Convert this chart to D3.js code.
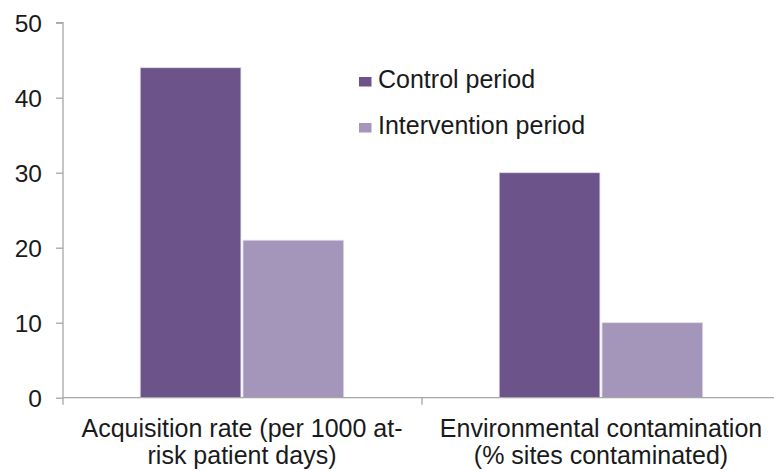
<!DOCTYPE html>
<html>
<head>
<meta charset="utf-8">
<script src="https://cdn.jsdelivr.net/npm/d3@7"></script>
<style>
  html, body { margin: 0; padding: 0; background: #fff; }
  svg { display: block; }
  text { font-family: "Liberation Sans", Arial, sans-serif; fill: #1a1a1a; }
</style>
</head>
<body>
<svg id="chart" width="774" height="471"></svg>
<script>
// Categories (each label split into its two display lines)
const categories = ["Acquisition rate", "Environmental contamination"];
const categoryLines = [
  ["Acquisition rate (per 1000 at-", "risk patient days)"],
  ["Environmental contamination", "(% sites contaminated)"]
];
const seriesNames = ["Control period", "Intervention period"];
const controlValues = [44, 30];
const interventionValues = [21, 10];
const yTicks = [0, 10, 20, 30, 40, 50];
const colors = ["#6c548b", "#a496bb"];

const svg = d3.select("#chart");
const margin = { left: 63, right: -7, top: 22.7, bottom: 73.3 };
const W = 774, H = 471;
const plotBottom = H - margin.bottom;

const y = d3.scaleLinear().domain([0, 50]).range([plotBottom, margin.top]);
const x0 = d3.scaleBand().domain(categories).range([margin.left, W - margin.right]).padding(0);
const x1 = d3.scaleBand().domain(seriesNames)
  .range([x0.bandwidth() * 0.215, x0.bandwidth() * 0.782])
  .paddingInner(0.02);

const rows = categories.map((c, i) => ({
  category: c,
  values: [controlValues[i], interventionValues[i]]
}));

// Bars
const groups = svg.append("g").selectAll("g")
  .data(rows).join("g")
  .attr("transform", d => `translate(${x0(d.category)},0)`);

groups.selectAll("rect")
  .data(d => d.values.map((v, j) => ({ series: seriesNames[j], value: v, j })))
  .join("rect")
  .attr("x", d => x1(d.series))
  .attr("y", d => y(d.value))
  .attr("width", x1.bandwidth())
  .attr("height", d => y(0) - y(d.value))
  .attr("fill", d => colors[d.j])
  .attr("stroke", "#e2dee8")
  .attr("stroke-width", 0.8);

// Y axis
const yAxis = d3.axisLeft(y).tickValues(yTicks).tickSize(7).tickPadding(14);
const gy = svg.append("g").attr("transform", `translate(${margin.left},0)`).call(yAxis);
gy.select(".domain").attr("stroke", "#a6a6a6").attr("stroke-width", 1.3)
  .attr("d", `M-7,${y(50)}H0V${y(0)}`);
gy.selectAll(".tick line").attr("stroke", "#a6a6a6").attr("stroke-width", 1.3);
gy.selectAll(".tick text")
  .style("font-size", "24.5px")
  .attr("fill", "#1a1a1a")
  .attr("dy", "0.36em");

// X axis baseline and category separators
const gx = svg.append("g");
gx.append("line")
  .attr("x1", margin.left).attr("x2", W)
  .attr("y1", y(0)).attr("y2", y(0))
  .attr("stroke", "#a6a6a6").attr("stroke-width", 1.3);
[x0.range()[0], x0(categories[1])].forEach(xv => {
  gx.append("line")
    .attr("x1", xv).attr("x2", xv)
    .attr("y1", y(0)).attr("y2", y(0) + 7)
    .attr("stroke", "#a6a6a6").attr("stroke-width", 1.3);
});

// Category labels
categories.forEach((c, i) => {
  const cx = x0(c) + x0.bandwidth() / 2 - 0.5;
  const t = svg.append("text")
    .attr("text-anchor", "middle")
    .style("font-size", "25px");
  categoryLines[i].forEach((line, k) => {
    t.append("tspan").attr("x", cx).attr("y", 437 + k * 27).text(line);
  });
});

// Legend
const legend = svg.append("g").attr("transform", "translate(359,0)");
seriesNames.forEach((s, i) => {
  const ly = 77 + i * 46;
  legend.append("rect")
    .attr("x", 0).attr("y", ly)
    .attr("width", 12.5).attr("height", 9.5)
    .attr("fill", colors[i]);
  legend.append("text")
    .attr("x", 19).attr("y", ly + 10.5)
    .style("font-size", "25px")
    .text(s);
});
</script>
</body>
</html>
